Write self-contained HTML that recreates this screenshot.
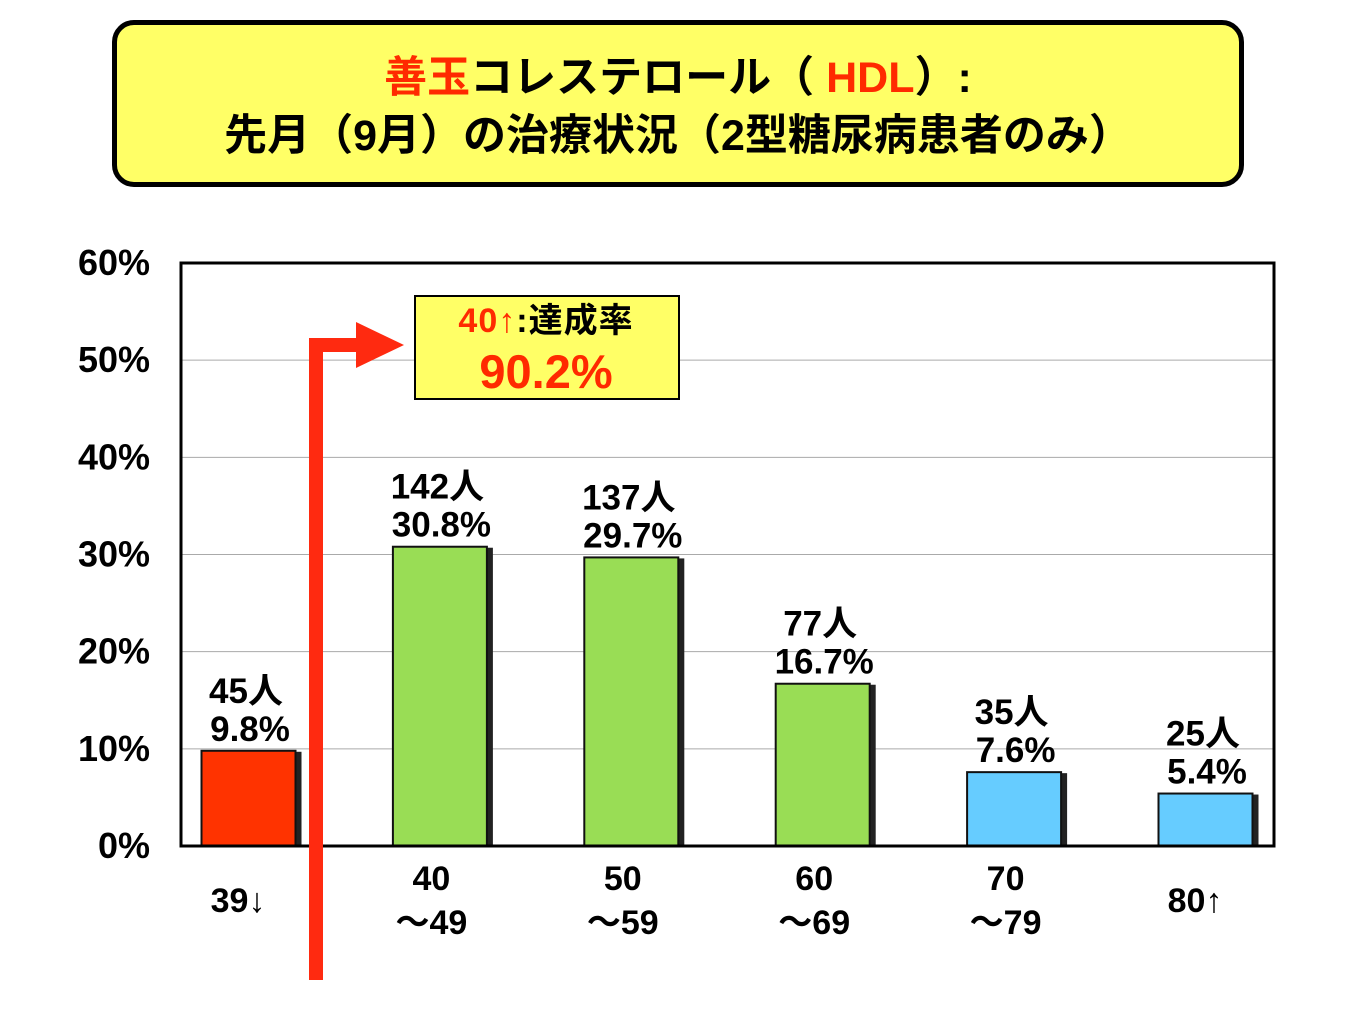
<!DOCTYPE html>
<html><head><meta charset="utf-8">
<style>
html,body{margin:0;padding:0;background:#fff;}
body{width:1365px;height:1024px;overflow:hidden;position:relative;font-family:"Liberation Sans","Noto Sans CJK JP",sans-serif;}
#title{position:absolute;left:112px;top:20px;width:1132px;height:167px;background:#FFFF66;border:5px solid #000;border-radius:22px;text-align:center;font-weight:bold;font-size:43px;line-height:58px;padding-top:24px;box-sizing:border-box;}
</style></head>
<body>
<div id="title"><span style="color:#FF2A00">善玉</span>コレステロール（ <span style="color:#FF2A00">HDL</span>）:<br>先月（9月）の治療状況（2型糖尿病患者のみ）</div>
<svg id="chart" width="1365" height="1024" style="position:absolute;left:0;top:0"></svg>
<script>
const categoriesTop=["","40","50","60","70",""];
const categoriesBottom=["39↓","～49","～59","～69","～79","80↑"];
const counts=["45人","142人","137人","77人","35人","25人"];
const values=[9.8,30.8,29.7,16.7,7.6,5.4];
const colors=["#FF3300","#99DD55","#99DD55","#99DD55","#66CCFF","#66CCFF"];
const yTicks=[0,10,20,30,40,50,60];
const achieveLabel="40↑";
const achieveValue="90.2%";
const NS="http://www.w3.org/2000/svg";
const svg=document.getElementById('chart');
const L=181,R=1274,T=263,B=846,yMax=60;
const y=v=>B-(v/yMax)*(B-T);
const xc=i=>250+i*191.4;
const bw=97;
function mk(tag,attrs,parent){const e=document.createElementNS(NS,tag);for(const k in attrs)e.setAttribute(k,attrs[k]);(parent||svg).appendChild(e);return e;}
yTicks.forEach(t=>{
  if(t>0&&t<60){const g=mk('line',{x1:L,x2:R,y1:y(t),y2:y(t),stroke:'#aaa','stroke-width':1});
  
  }
  const tx=mk('text',{x:150,y:y(t)+12,'text-anchor':'end','font-size':36,'font-weight':'bold'});
  tx.textContent=t+'%';
  
  
});
values.forEach((v,i)=>{
  const sh=mk('rect',{x:xc(i)-bw/2+3,y:y(v)+1,width:bw,height:B-y(v)-1,fill:'#222'});
  
  
  const r=mk('rect',{x:xc(i)-bw/2,y:y(v),width:bw-3,height:B-y(v),fill:colors[i],stroke:'#111','stroke-width':2});
  
  
  const c=mk('text',{x:xc(i)-4,y:y(v)-48,'text-anchor':'middle','font-size':35,'font-weight':'bold'});
  c.textContent=counts[i];
  
  
  const p=mk('text',{x:xc(i),y:y(v)-10,'text-anchor':'middle','font-size':35,'font-weight':'bold'});
  p.textContent=v.toFixed(1)+'%';
  
  
  if(categoriesTop[i]){
    const a=mk('text',{x:xc(i)-10,y:890,'text-anchor':'middle','font-size':34,'font-weight':'bold'});
    a.textContent=categoriesTop[i];
    
    
    const b=mk('text',{x:xc(i)-10,y:934,'text-anchor':'middle','font-size':34,'font-weight':'bold'});
    b.textContent=categoriesBottom[i];
    
    
  } else {
    const b=mk('text',{x:xc(i)-12,y:912,'text-anchor':'middle','font-size':34,'font-weight':'bold'});
    b.textContent=categoriesBottom[i];
    
    
  }
});
const frame=mk('rect',{x:L,y:T,width:R-L,height:B-T,fill:'none',stroke:'#000','stroke-width':3});


const arrow=mk('path',{d:'M316,980 L316,345 L362,345',fill:'none',stroke:'#FF2A10','stroke-width':14});


const head=mk('polygon',{points:'356,322 404,345 356,368',fill:'#FF2A10'});


const box=mk('rect',{x:415,y:296,width:264,height:103,fill:'#FFFF66',stroke:'#000','stroke-width':2});


const t1=mk('text',{x:546,y:332,'text-anchor':'middle','font-size':34,'font-weight':'bold','letter-spacing':1});
t1.innerHTML='<tspan fill="#FF2A00">'+achieveLabel+'</tspan>:達成率';


const t2=mk('text',{x:546,y:388,'text-anchor':'middle','font-size':47,'font-weight':'bold',fill:'#FF2A00'});
t2.textContent=achieveValue;


</script>
</body></html>
